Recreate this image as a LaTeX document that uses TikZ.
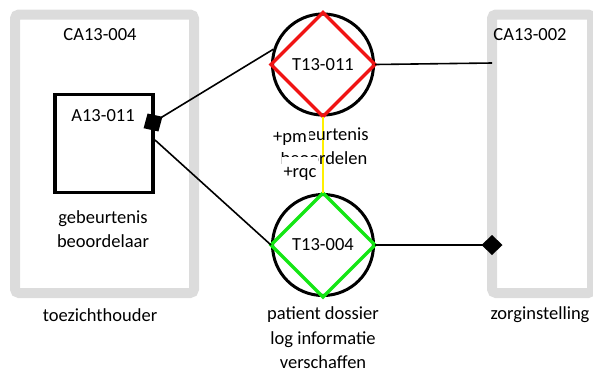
\documentclass[tikz,border=0pt]{standalone}
\usepackage{fontspec}
\setmainfont{Carlito}
\usetikzlibrary{arrows.meta,shapes.geometric}
\definecolor{boxgray}{RGB}{220,220,220}
\definecolor{dred}{RGB}{240,20,20}
\definecolor{dgreen}{RGB}{20,230,20}
\definecolor{dyellow}{RGB}{255,240,0}
\tikzset{
  lbl/.style={font=\fontsize{18.5}{24.5}\selectfont, align=center, inner sep=0pt},
  roleframe/.style={draw=boxgray, line width=10pt, rounded corners=4pt},
  actor/.style={draw=black, line width=3.5pt, minimum size=98pt, inner sep=0pt},
  trans/.style={circle, draw=black, line width=3pt, minimum size=101pt, inner sep=0pt},
  link/.style={draw=black, line width=1.6pt},
  diamondtip/.style={-{Diamond[length=21pt,width=20pt]}, shorten >=-10.5pt},
  rdiamondtip/.style={{Diamond[length=22pt,width=21pt]}-, shorten <=-11pt},
  cover/.style={fill=white, inner xsep=2pt, inner ysep=0pt, text height=13pt, text depth=4pt,
    font=\fontsize{18.5}{24.5}\selectfont}
}
\begin{document}
\begin{tikzpicture}[x=1pt,y=-1pt]
\useasboundingbox (0,0) rectangle (593,376);
% role frames
\draw[roleframe] (15,14.5) rectangle (194,293);
\draw[roleframe] (492,14.5) rectangle (592,293);
\node[lbl] (ca4) at (100,35) {CA13-004};
\node[lbl] (ca2) at (530,35) {CA13-002};
\node[lbl] (toe) at (100,315) {toezichthouder};
\node[lbl] (zorg) at (540,315) {zorginstelling};
% actor
\node[actor] (a11) at (104,143.5) {};
\node[lbl] (a11t) at (103,116) {A13-011};
\node[lbl] (a11l) at (103,229) {gebeurtenis\\beoordelaar};
% transactions
\node[trans] (t11) at (323,64.5) {};
\node[trans] (t04) at (323,245) {};
\draw[dred, line width=3.5pt, line join=miter] (t11.north) -- (t11.east) -- (t11.south) -- (t11.west) -- cycle;
\draw[dgreen, line width=3.5pt, line join=miter] (t04.north) -- (t04.east) -- (t04.south) -- (t04.west) -- cycle;
\node[lbl] (t11t) at (t11) {T13-011};
\node[lbl] (t04t) at (t04) {T13-004};
% connectors
\coordinate (dl) at (153,122.5);
\coordinate (a11e) at (155,140);
\coordinate (r1) at (492,63);
\coordinate (dr) at (492,245);
\draw[link, rdiamondtip] (dl) -- (t11.163);
\draw[link] (a11e) -- (t04.west);
\draw[link] (t11.east) -- (r1);
\draw[link, diamondtip] (t04.east) -- (dr);
\draw[dyellow, line width=1.3pt] (t11.south) -- (t04.north);
% labels
\node[lbl] (t11l) at (324,146) {gebeurtenis\\beoordelen};
\node[cover, minimum height=27pt] (pm) at (290,138) {+pm};
\node[cover, minimum height=32pt] (rqc) at (300,173) {+rqc};
\node[lbl] (t04l) at (323,338) {patient dossier\\log informatie\\verschaffen};
\end{tikzpicture}
\end{document}
